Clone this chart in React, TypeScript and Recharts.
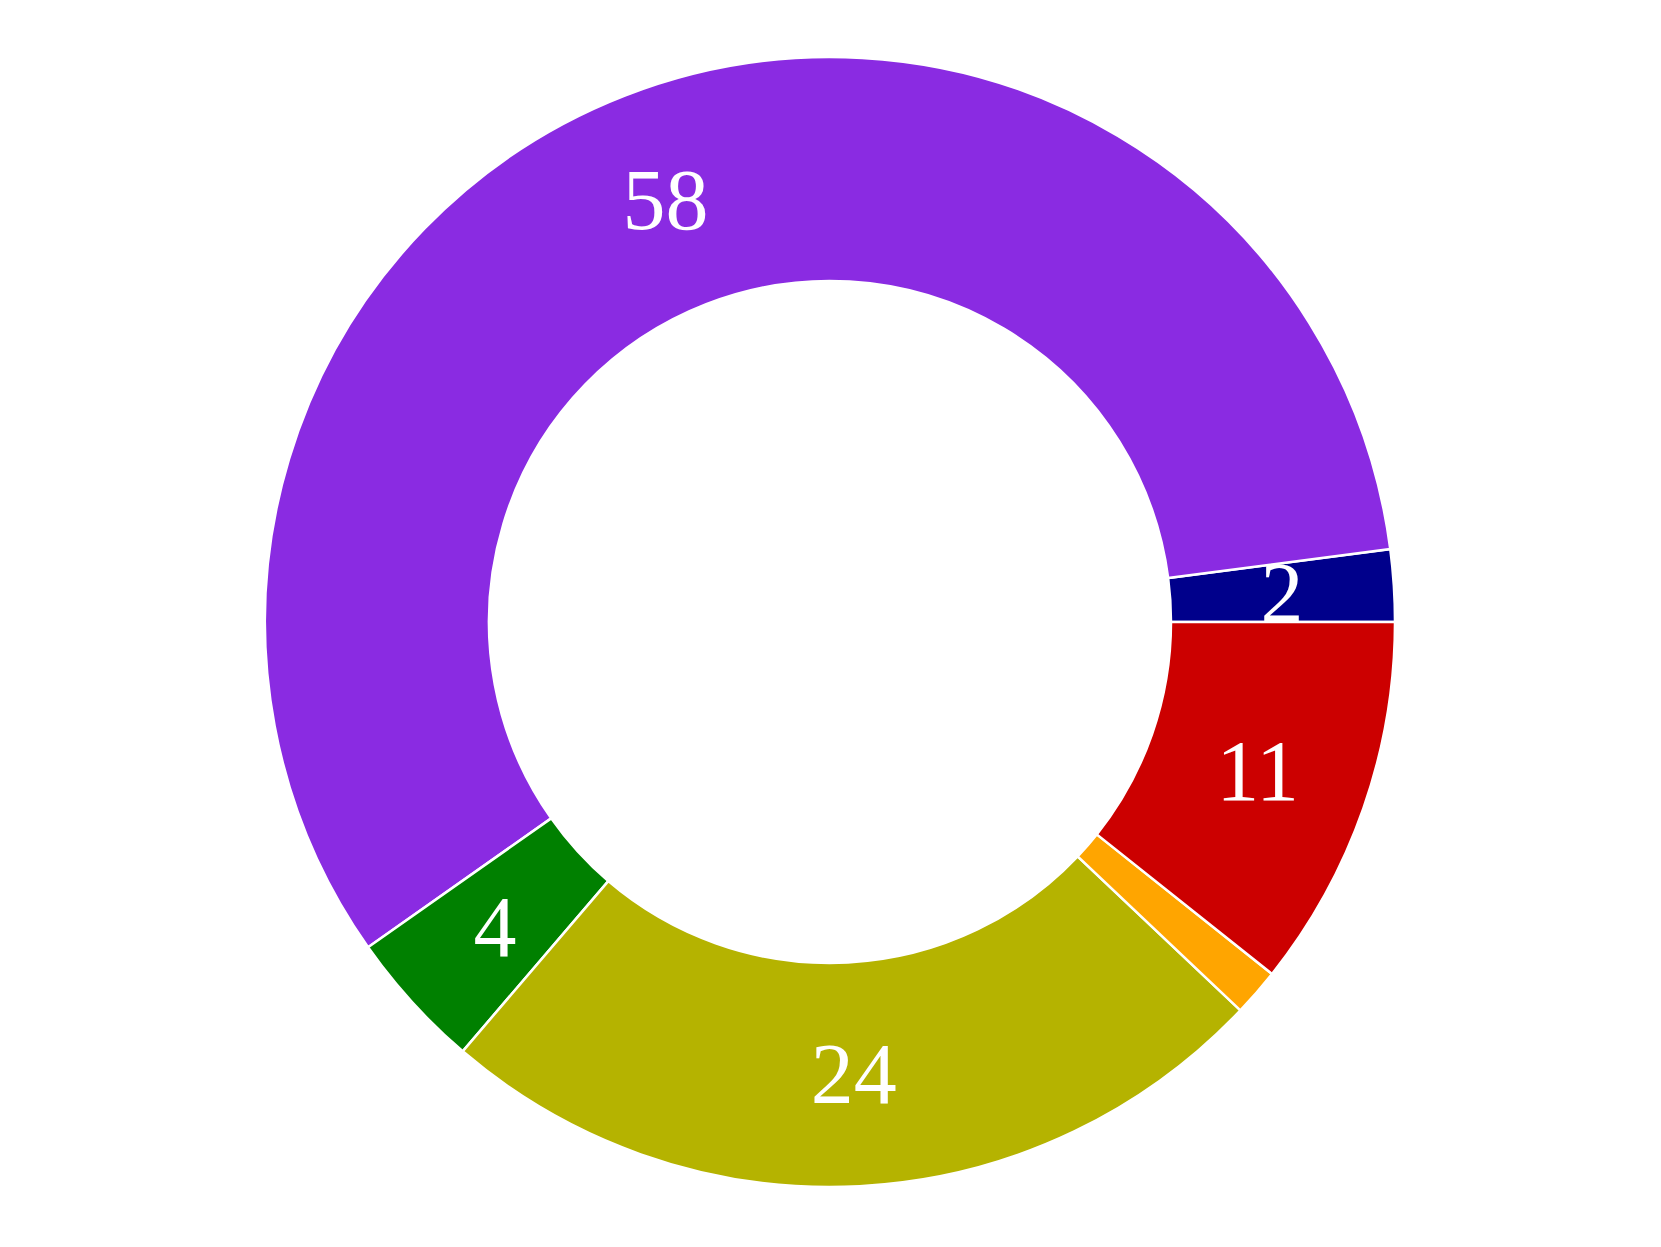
import React from "react";
import { PieChart, Pie, Cell } from "recharts";

const categories = ["A", "B", "C", "D", "E", "F"];
const values = [2.06, 57.7, 3.97, 24.2, 1.36, 10.7];
const labels = ["2", "58", "4", "24", "", "11"];
const colors = ["#00008b", "#8a2be2", "#008000", "#b5b300", "#ffa500", "#cc0000"];

const data = categories.map((c, i) => ({ name: c, value: values[i], label: labels[i] }));

const RAD = Math.PI / 180;

const renderLabel = (props: any) => {
  const { cx, cy, midAngle, innerRadius, outerRadius, index } = props;
  const text = labels[index];
  if (!text) return null;
  const r = (innerRadius + outerRadius) / 2;
  const x = cx + r * Math.cos(-midAngle * RAD);
  const y = cy + r * Math.sin(-midAngle * RAD);
  return (
    <text
      x={x}
      y={y}
      fill="#ffffff"
      textAnchor="middle"
      dominantBaseline="central"
      fontFamily="'Liberation Serif', 'DejaVu Serif', serif"
      fontSize={86}
    >
      {text}
    </text>
  );
};

export default function App() {
  return (
    <div style={{ position: "absolute", left: 0, top: 0, width: 1661, height: 1247, background: "#fff" }}>
      <PieChart width={1661} height={1247} margin={{ top: 0, right: 0, bottom: 0, left: 0 }}>
        <Pie
          data={data}
          dataKey="value"
          nameKey="name"
          cx={830}
          cy={622}
          innerRadius={341}
          outerRadius={565}
          startAngle={0}
          endAngle={360}
          stroke="#ffffff"
          strokeWidth={2.5}
          label={renderLabel}
          labelLine={false}
          isAnimationActive={false}
        >
          {data.map((d, i) => (
            <Cell key={d.name} fill={colors[i]} />
          ))}
        </Pie>
      </PieChart>
    </div>
  );
}
